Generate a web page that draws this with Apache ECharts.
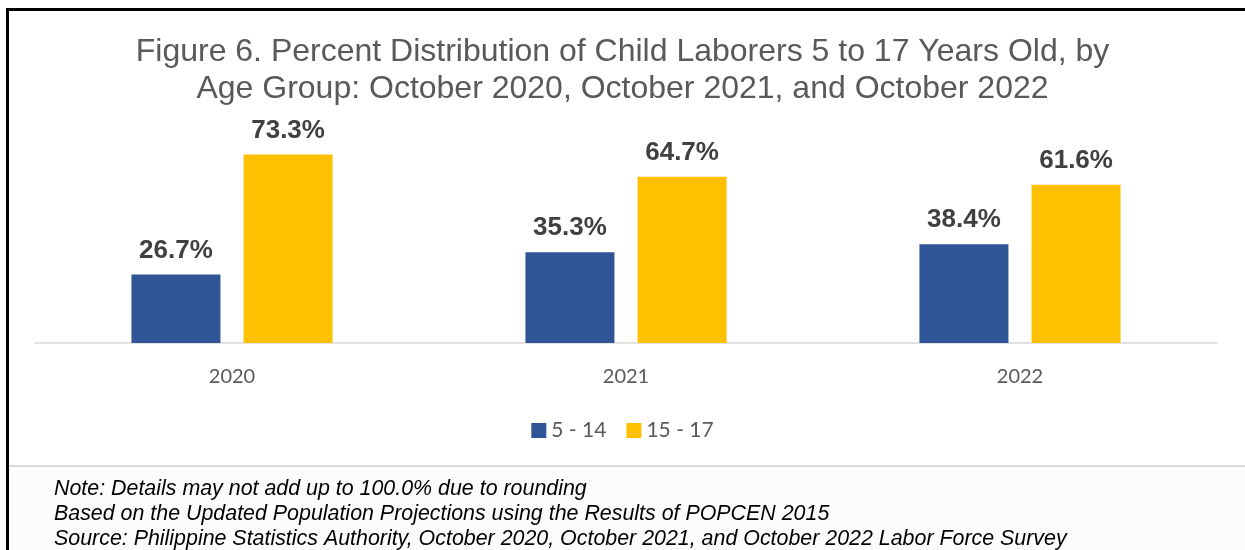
<!DOCTYPE html>
<html><head><meta charset="utf-8">
<script src="https://cdn.jsdelivr.net/npm/echarts@6/dist/echarts.min.js"></script>
<style>html,body{margin:0;padding:0;background:#fff}#c{width:1245px;height:550px}</style>
</head><body><div id="c"></div>
<script>
const categories = ['2020', '2021', '2022'];
const age5to14 = [26.7, 35.3, 38.4];
const age15to17 = [73.3, 64.7, 61.6];
const seriesNames = ['5 - 14', '15 - 17'];
const titleLines = ['Figure 6. Percent Distribution of Child Laborers 5 to 17 Years Old, by', 'Age Group: October 2020, October 2021, and October 2022'];
const notes = ['Note: Details may not add up to 100.0% due to rounding', 'Based on the Updated Population Projections using the Results of POPCEN 2015', 'Source: Philippine Statistics Authority, October 2020, October 2021, and October 2022 Labor Force Survey'];

const chart = echarts.init(document.getElementById('c'), null, {renderer: 'canvas'});
const labelStyle = {show: true, position: 'top', distance: 11, formatter: p => p.value.toFixed(1) + '%', fontFamily: 'Liberation Sans, Arial', fontWeight: 'bold', fontSize: 26, color: '#404040'};
chart.setOption({
  animation: false,
  title: {text: titleLines.join('\n'), left: 'center', top: 29, textStyle: {fontFamily: 'Liberation Sans, Arial', fontWeight: 'normal', fontSize: 32, color: '#595959', lineHeight: 37}},
  legend: {bottom: 104, left: 'center', itemWidth: 15, itemHeight: 15, itemGap: 20, icon: 'rect', textStyle: {fontFamily: 'Lato, Open Sans', fontSize: 21, color: '#595959', padding: [0,0,0,0]}, data: seriesNames},
  grid: {left: 35, right: 28, top: 137.4, bottom: 550 - 343, containLabel: false},
  xAxis: {type: 'category', data: categories, axisLine: {lineStyle: {color: '#d9d9d9', width: 1.5}}, axisTick: {show: false}, axisLabel: {fontFamily: 'Lato, Open Sans', fontSize: 20, color: '#595959', margin: 24}},
  yAxis: {type: 'value', min: 0, max: 80, show: false, splitLine: {show: false}},
  series: [
    {name: seriesNames[0], type: 'bar', data: age5to14, barWidth: 89, barGap: '26%', itemStyle: {color: '#2F5597'}, label: labelStyle},
    {name: seriesNames[1], type: 'bar', data: age15to17, barWidth: 89, itemStyle: {color: '#FFC000'}, label: labelStyle}
  ],
  graphic: [
    {type: 'rect', shape: {x: 9, y: 467, width: 1240, height: 90}, style: {fill: '#fcfcfc'}, silent: true, z: -1},
    {type: 'line', shape: {x1: 9, y1: 466, x2: 1245, y2: 466}, style: {stroke: '#d9d9d9', lineWidth: 2}},
    {type: 'rect', shape: {x: 7.5, y: 9.5, width: 1260, height: 600}, style: {fill: 'none', stroke: '#000', lineWidth: 3}},
    {type: 'text', left: 54, top: 477, style: {text: notes.join('\n'), fontFamily: 'Liberation Sans, Arial', fontStyle: 'italic', fontSize: 21.4, lineHeight: 25, fill: '#000'}}
  ]
});
</script></body></html>
